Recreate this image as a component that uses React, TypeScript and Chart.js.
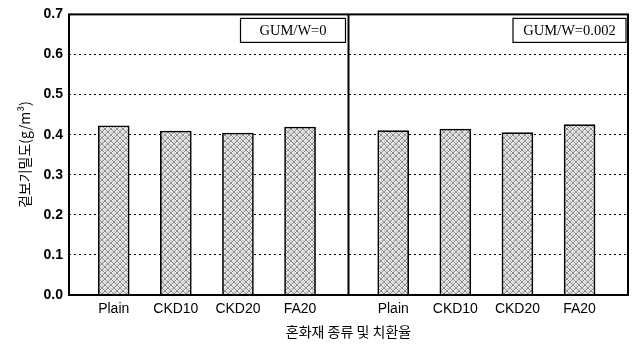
import React, { useEffect, useRef } from "react";
import { Chart, registerables } from "chart.js";

Chart.register(...registerables);

const categories = ["Plain", "CKD10", "CKD20", "FA20"];
const panelLabels = ["GUM/W=0", "GUM/W=0.002"];
const densityGum0 = [0.422, 0.409, 0.404, 0.419];
const densityGum002 = [0.41, 0.414, 0.405, 0.425];
const yTickValues = [0.0, 0.1, 0.2, 0.3, 0.4, 0.5, 0.6, 0.7];
const xTitle = "혼화재 종류 및 치환율";
const yTitle = "겉보기밀도(g/m³)";

// layout constants (in x-scale units)
const PANEL_SPAN = 4.5;
const LEAD = 0.72;
const panelSeries = [densityGum0, densityGum002];

function makePattern(): CanvasPattern | string {
  const c = document.createElement("canvas");
  c.width = 6;
  c.height = 6;
  const g = c.getContext("2d");
  if (!g) return "#cccccc";
  g.fillStyle = "#e6e6e6";
  g.fillRect(0, 0, 6, 6);
  g.fillStyle = "#8c8c8c";
  for (let i = 0; i < 6; i++) {
    g.fillRect(i, i, 1, 1);
    g.fillRect(i, 5 - i, 1, 1);
  }
  g.fillStyle = "#b4b4b4";
  g.fillRect(3, 0, 1, 1);
  g.fillRect(0, 3, 1, 1);
  const p = g.createPattern(c, "repeat");
  return p || "#cccccc";
}

export default function App() {
  const ref = useRef<HTMLCanvasElement | null>(null);

  useEffect(() => {
    const canvas = ref.current;
    if (!canvas) return;
    const pattern = makePattern();

    const tickPositions: number[] = [];
    panelSeries.forEach((_, p) => {
      categories.forEach((_, i) => tickPositions.push(p * PANEL_SPAN + LEAD + i));
    });

    const datasets = panelSeries.map((vals, p) => ({
      label: panelLabels[p],
      data: vals.map((v, i) => ({ x: p * PANEL_SPAN + LEAD + i, y: v })),
      backgroundColor: pattern as any,
      borderColor: "#000",
      borderWidth: 1.6,
      borderSkipped: "bottom" as const,
      barThickness: 31,
      grouped: false,
    }));

    const framePlugin = {
      id: "frame",
      afterDraw(chart: any) {
        const { ctx, chartArea } = chart;
        const xs = chart.scales.x;
        const divX = xs.getPixelForValue(PANEL_SPAN);
        ctx.save();
        ctx.strokeStyle = "#000";
        ctx.lineWidth = 2;
        ctx.setLineDash([]);
        ctx.strokeRect(
          chartArea.left,
          chartArea.top,
          chartArea.right - chartArea.left,
          chartArea.bottom - chartArea.top
        );
        ctx.beginPath();
        ctx.moveTo(divX, chartArea.top);
        ctx.lineTo(divX, chartArea.bottom);
        ctx.stroke();

        // panel annotation boxes
        const boxes = [
          { right: divX - 3, w: 105, text: panelLabels[0] },
          { right: chartArea.right - 2, w: 113, text: panelLabels[1] },
        ];
        ctx.font = "14.5px 'Liberation Serif', 'Times New Roman', serif";
        ctx.textAlign = "center";
        ctx.textBaseline = "middle";
        boxes.forEach((b) => {
          const x0 = b.right - b.w;
          const y0 = chartArea.top + 4;
          const h = 24;
          ctx.fillStyle = "#fff";
          ctx.fillRect(x0, y0, b.w, h);
          ctx.lineWidth = 1.2;
          ctx.strokeStyle = "#000";
          ctx.strokeRect(x0, y0, b.w, h);
          ctx.fillStyle = "#000";
          ctx.fillText(b.text, x0 + b.w / 2, y0 + h / 2 + 1);
        });
        ctx.restore();
      },
    };

    const chart = new Chart(canvas, {
      type: "bar",
      data: { datasets: datasets as any },
      plugins: [framePlugin],
      options: {
        responsive: false,
        animation: false,
        layout: { padding: { left: 0, right: 8, top: 11, bottom: 0 } },
        plugins: {
          legend: { display: false },
          tooltip: { enabled: false },
        },
        scales: {
          x: {
            type: "linear",
            offset: false,
            min: 0,
            max: PANEL_SPAN * 2,
            afterFit(scale: any) {
              scale.height = 50;
            },
            afterBuildTicks(scale: any) {
              scale.ticks = tickPositions.map((v) => ({ value: v }));
            },
            ticks: {
              autoSkip: false,
              maxRotation: 0,
              padding: -2,
              color: "#000",
              font: { family: "'Liberation Sans', Arial, sans-serif", size: 14 },
              callback: (_v: any, idx: number) => categories[idx % categories.length],
            },
            grid: { display: false },
            border: { display: false },
            title: {
              display: true,
              text: xTitle,
              color: "#000",
              font: { family: "'Noto Sans CJK KR', sans-serif", size: 14 },
              padding: { top: 0, bottom: 5 },
            },
          },
          y: {
            min: 0,
            max: 0.7,
            afterFit(scale: any) {
              scale.width = 69;
            },
            afterBuildTicks(scale: any) {
              scale.ticks = yTickValues.map((v) => ({ value: v }));
            },
            ticks: {
              padding: 6,
              color: "#000",
              font: {
                family: "'Liberation Sans', Arial, sans-serif",
                size: 14,
                weight: "bold",
              },
              callback: (v: any) => Number(v).toFixed(1),
            },
            grid: {
              drawTicks: false,
              color: (c: any) =>
                c.tick && (c.tick.value <= 0.001 || c.tick.value >= 0.699)
                  ? "rgba(0,0,0,0)"
                  : "#000",
              lineWidth: 1,
            },
            border: { display: false, dash: [2, 3] },
            title: {
              display: true,
              text: yTitle,
              color: "#000",
              font: { family: "'Noto Sans CJK KR', sans-serif", size: 14 },
              padding: { top: 16, bottom: 0 },
            },
          },
        },
      },
    });

    return () => chart.destroy();
  }, []);

  return (
    <div style={{ position: "fixed", left: 0, top: 0, width: 636, height: 345, background: "#fff" }}>
      <canvas ref={ref} width={636} height={345} />
    </div>
  );
}
